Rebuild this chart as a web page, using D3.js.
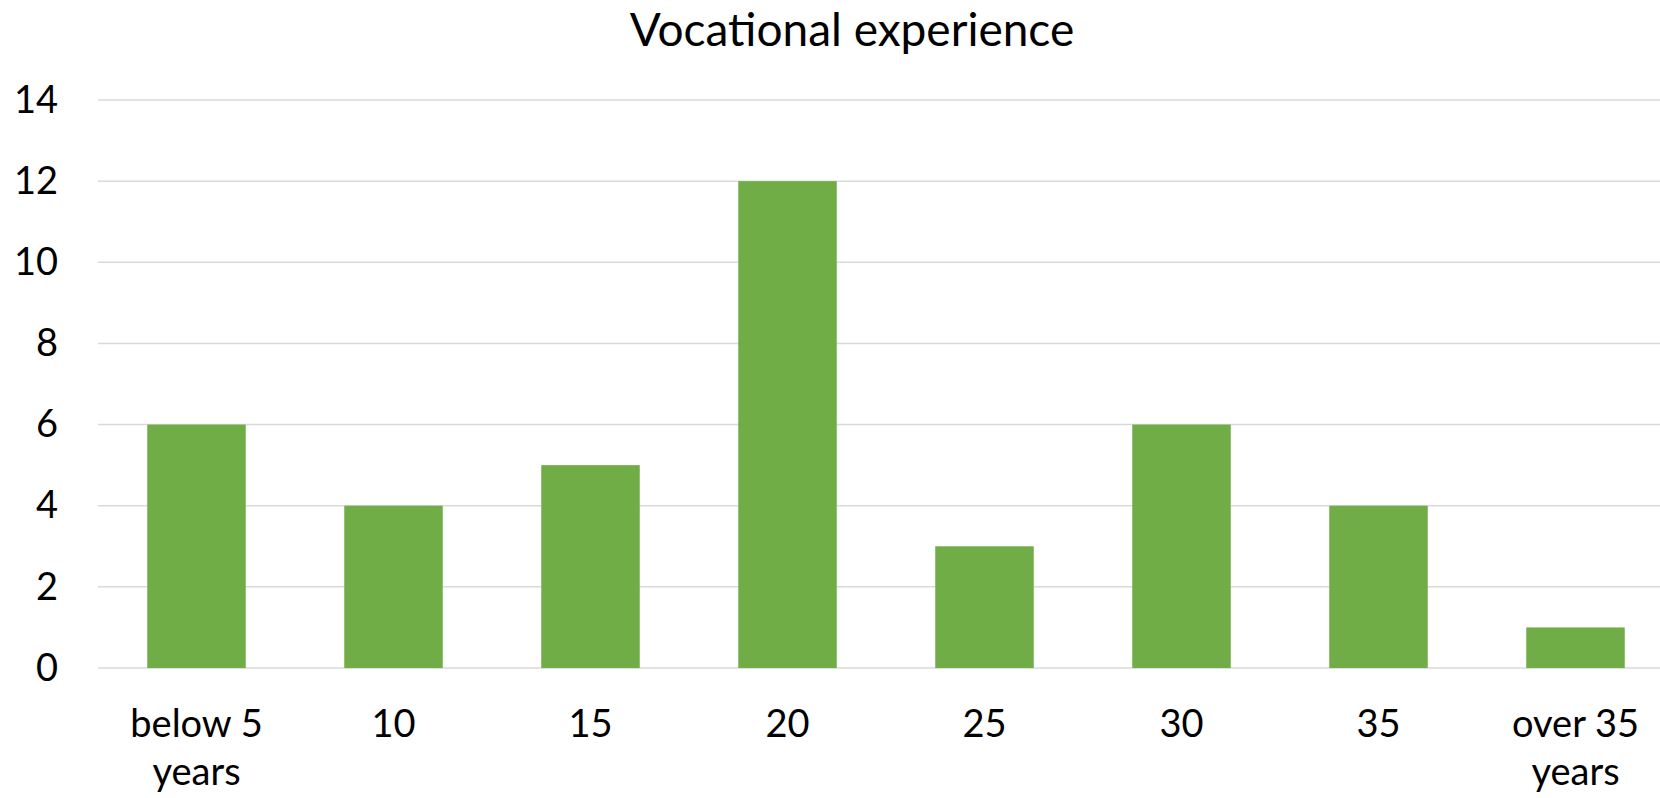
<!DOCTYPE html>
<html>
<head>
<meta charset="utf-8">
<script src="https://cdn.jsdelivr.net/npm/d3@7"></script>
<style>
  body { margin: 0; background: #fff; }
  svg { display: block; font-family: Lato, "Open Sans", sans-serif; }
</style>
</head>
<body>
<div id="chart"></div>
<script>
var categories = ["below 5 years", "10", "15", "20", "25", "30", "35", "over 35 years"];
var counts = [6, 4, 5, 12, 3, 6, 4, 1];
var yTicks = [0, 2, 4, 6, 8, 10, 12, 14];
var chartTitle = "Vocational experience";

var W = 1660, H = 798;
var margin = {top: 100, right: -14, bottom: 130, left: 98},
    width = W - margin.left - margin.right,
    height = H - margin.top - margin.bottom;

var svg = d3.select("#chart").append("svg")
    .attr("width", W)
    .attr("height", H);

svg.append("text")
    .attr("x", 852)
    .attr("y", 46)
    .attr("text-anchor", "middle")
    .style("font-size", "46px")
    .text(chartTitle);

var g = svg.append("g")
    .attr("transform", "translate(" + margin.left + "," + margin.top + ")");

var x = d3.scaleBand()
    .domain(categories)
    .range([0, width])
    .paddingInner(0.5)
    .paddingOuter(0.25);

var y = d3.scaleLinear()
    .domain([0, 14])
    .range([height, 0]);

// gridlines
g.append("g")
    .selectAll("line")
    .data(yTicks)
    .enter().append("line")
    .attr("x1", 0)
    .attr("x2", width)
    .attr("y1", function(d) { return y(d); })
    .attr("y2", function(d) { return y(d); })
    .attr("stroke", "#d9d9d9")
    .attr("stroke-width", 1.5);

// y axis labels
var yAxis = g.append("g")
    .call(d3.axisLeft(y).tickValues(yTicks).tickSize(0).tickPadding(40));
yAxis.select(".domain").remove();
yAxis.selectAll("text")
    .attr("fill", "#000")
    .style("font-family", "Lato, 'Open Sans', sans-serif")
    .style("font-size", "38px");

g.selectAll(".bar")
    .data(counts)
    .enter().append("rect")
    .attr("class", "bar")
    .attr("x", function(d, i) { return x(categories[i]); })
    .attr("width", x.bandwidth())
    .attr("y", function(d) { return y(d); })
    .attr("height", function(d) { return height - y(d); })
    .attr("fill", "#70ad47");

// x labels, wrapped like excel does
var xLab = g.append("g")
    .attr("transform", "translate(0," + height + ")");

categories.forEach(function(c) {
    var lines = c.length > 8 ? [c.replace(/ years$/, ""), "years"] : [c];
    var t = xLab.append("text")
        .attr("x", x(c) + x.bandwidth() / 2)
        .attr("y", 69)
        .attr("text-anchor", "middle")
        .style("font-size", "38px");
    lines.forEach(function(l, i) {
        t.append("tspan")
            .attr("x", x(c) + x.bandwidth() / 2)
            .attr("dy", i === 0 ? 0 : 48)
            .text(l);
    });
});
</script>
</body>
</html>
